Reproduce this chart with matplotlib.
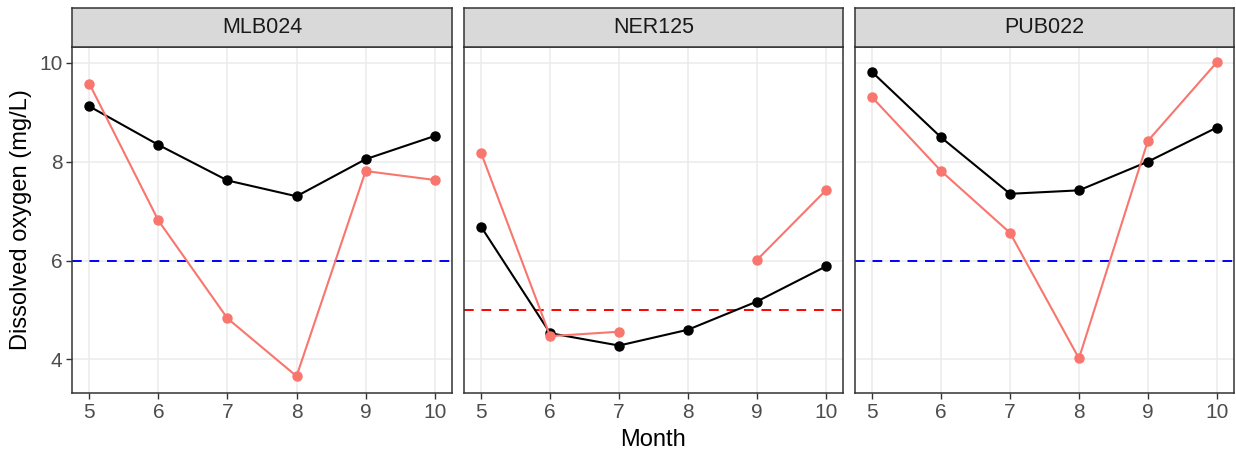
import numpy as np
from matplotlib import pyplot as plt
from matplotlib import rcParams

rcParams['font.family'] = ['Liberation Sans', 'DejaVu Sans']

# data
months = [5, 6, 7, 8, 9, 10]
sites = ["MLB024", "NER125", "PUB022"]
black_vals = {
    "MLB024": [9.12, 8.34, 7.62, 7.30, 8.05, 8.52],
    "NER125": [6.68, 4.53, 4.28, 4.60, 5.17, 5.88],
    "PUB022": [9.81, 8.49, 7.35, 7.42, 8.00, 8.69],
}
red_vals = {
    "MLB024": [9.58, 6.81, 4.83, 3.66, 7.81, 7.63],
    "NER125": [8.17, 4.47, 4.56, np.nan, 6.01, 7.42],
    "PUB022": [9.30, 7.81, 6.56, 4.02, 8.42, 10.01],
}
thresholds = {"MLB024": 6, "NER125": 5, "PUB022": 6}
threshold_colors = {"MLB024": "blue", "NER125": "red", "PUB022": "blue"}

W, H = 1236, 453
fig = plt.figure(figsize=(W / 100, H / 100), dpi=100)

panel_x = [(72, 452), (464, 843), (855, 1234)]
panel_top, panel_bottom = 47, 393
strip_top = 8

border = '#333333'
grid = '#EBEBEB'
red = '#F8766D'

for i, site in enumerate(sites):
    x0, x1 = panel_x[i]
    ax = fig.add_axes([x0 / W, (H - panel_bottom) / H, (x1 - x0) / W, (panel_bottom - panel_top) / H])
    ax.set_xlim(4.75, 10.25)
    ax.set_ylim(3.32, 10.32)
    ax.set_xticks(months)
    ax.set_yticks([4, 6, 8, 10])
    ax.grid(True, color=grid, lw=1.1)
    ax.set_axisbelow(True)
    for sp in ax.spines.values():
        sp.set_color(border)
        sp.set_linewidth(1.1)
    ax.tick_params(colors=border, labelcolor='#4D4D4D', labelsize=15, length=4, width=1.0, pad=3)
    if i > 0:
        ax.tick_params(axis='y', labelleft=False, left=False)

    ax.axhline(thresholds[site], color=threshold_colors[site], lw=1.4, dashes=(5, 4), zorder=2)
    ax.plot(months, black_vals[site], color='black', lw=1.5, marker='o', ms=6.5, zorder=3)
    ax.plot(months, red_vals[site], color=red, lw=1.5, marker='o', ms=6.5, zorder=4)

    if i == 0:
        ax.set_ylabel('Dissolved oxygen (mg/L)', fontsize=17, labelpad=5)
    if i == 1:
        ax.set_xlabel('Month', fontsize=17, labelpad=5)

    sax = fig.add_axes([x0 / W, (H - panel_top) / H, (x1 - x0) / W, (panel_top - strip_top) / H])
    sax.set_facecolor('#D9D9D9')
    sax.set_xticks([])
    sax.set_yticks([])
    for sp in sax.spines.values():
        sp.set_color(border)
        sp.set_linewidth(1.1)
    sax.text(0.5, 0.5, site, ha='center', va='center', fontsize=15.5, color='#1A1A1A', transform=sax.transAxes)

fig.savefig('out.png', dpi=100)
